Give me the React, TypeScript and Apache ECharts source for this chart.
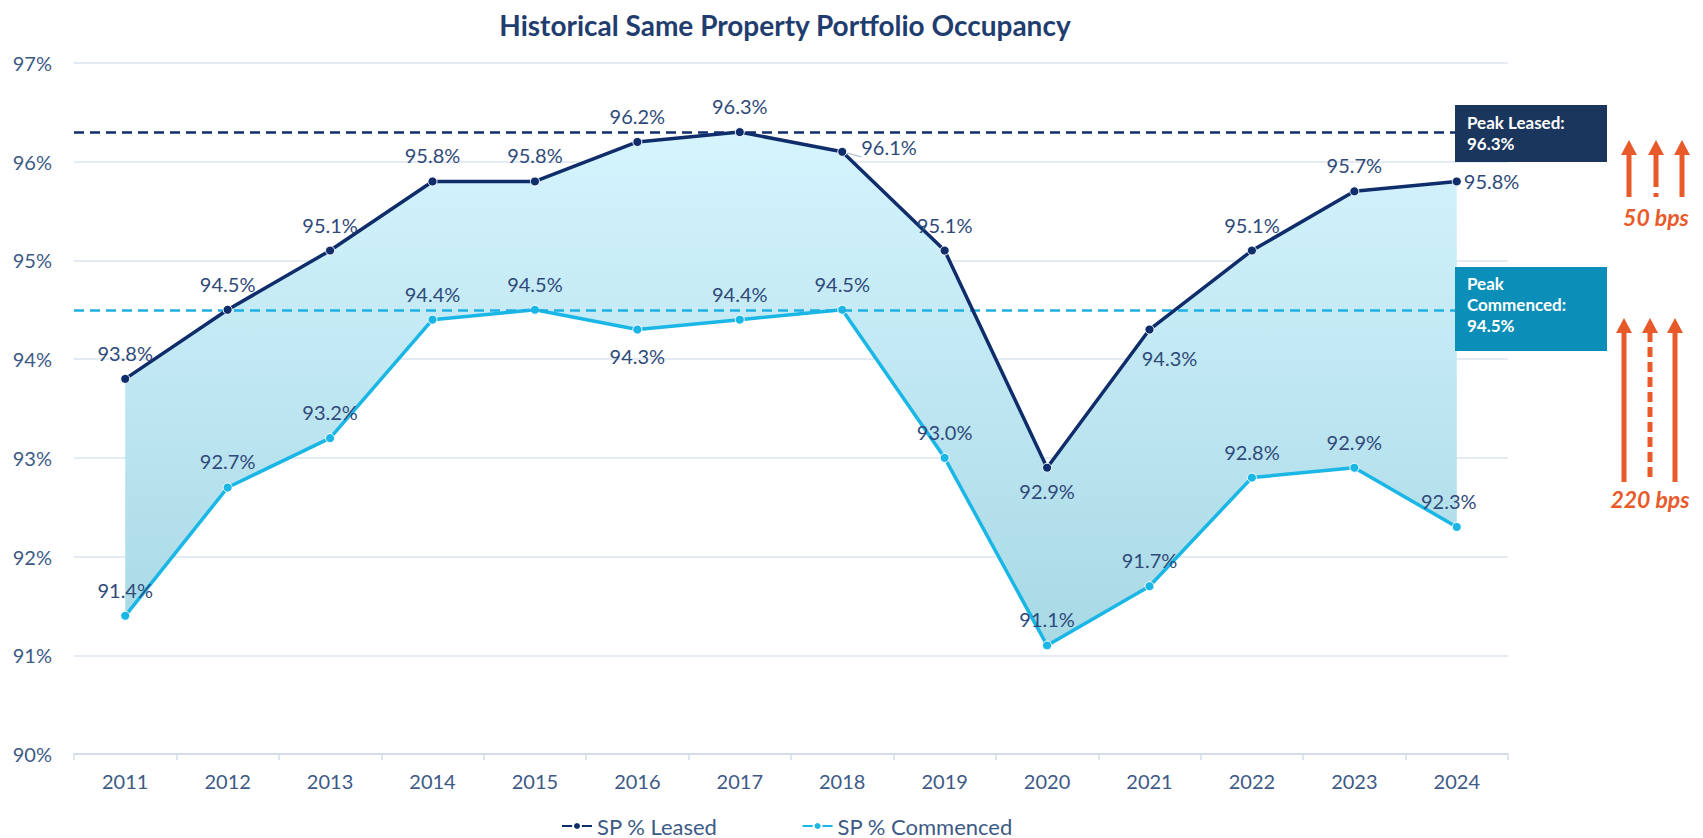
import React, { useEffect, useRef } from 'react';
import * as echarts from 'echarts';

const years = ['2011', '2012', '2013', '2014', '2015', '2016', '2017', '2018', '2019', '2020', '2021', '2022', '2023', '2024'];
const leased = [93.8, 94.5, 95.1, 95.8, 95.8, 96.2, 96.3, 96.1, 95.1, 92.9, 94.3, 95.1, 95.7, 95.8];
const commenced = [91.4, 92.7, 93.2, 94.4, 94.5, 94.3, 94.4, 94.5, 93.0, 91.1, 91.7, 92.8, 92.9, 92.3];
const peakLeased = 96.3;
const peakCommenced = 94.5;
const yMin = 90;
const yMax = 97;
const yStep = 1;

const NAVY = '#0f2d6b';
const CYAN = '#19b6e6';
const LABEL = '#2f4a7a';
const AXIS_TXT = '#3d5a86';
const ORANGE = '#e95a2b';
const FONT = 'Lato, "Open Sans", sans-serif';

const leasedLabelTweaks: Record<string, any> = {
  '2018': { position: 'right', distance: 14, offset: [0, -5] },
  '2020': { position: 'bottom', distance: 8 },
  '2021': { position: 'bottom', distance: 11, offset: [20, 2] },
  '2024': { position: 'right', distance: 2 },
};
const commencedLabelTweaks: Record<string, any> = {
  '2016': { position: 'bottom', distance: 11 },
  '2024': { offset: [-8, 0] },
};

function arrow(x: number, yTip: number, yBase: number, dashed: boolean, dash: number[]) {
  const headH = 15;
  const headW = 16;
  return [
    {
      type: 'line',
      z: 100,
      shape: { x1: x, y1: yTip + headH - 1, x2: x, y2: yBase },
      style: { stroke: ORANGE, lineWidth: 5, lineDash: dashed ? dash : null },
    },
    {
      type: 'polygon',
      z: 100,
      shape: { points: [[x, yTip], [x - headW / 2, yTip + headH], [x + headW / 2, yTip + headH]] },
      style: { fill: ORANGE },
    },
  ];
}

export default function App() {
  const ref = useRef<HTMLDivElement>(null);
  useEffect(() => {
    if (!ref.current) return;
    const chart = echarts.init(ref.current, null, { renderer: 'svg' });
    const band = leased.map((v, i) => Math.round((v - commenced[i]) * 10) / 10);
    const fmt = (p: any) => Number(p.value).toFixed(1) + '%';
    const labelBase = {
      show: true,
      position: 'top',
      distance: 11,
      color: LABEL,
      fontSize: 20,
      fontFamily: FONT,
      formatter: fmt,
    };
    const option: any = {
      animation: false,
      backgroundColor: '#ffffff',
      title: {
        text: 'Historical Same Property Portfolio Occupancy',
        left: 780,
        textAlign: 'center',
        top: 6,
        textStyle: { color: '#1f3d6e', fontSize: 28, fontWeight: 'bold', fontFamily: FONT },
      },
      legend: {
        data: ['SP % Leased', 'SP % Commenced'],
        left: 556,
        top: 810,
        itemWidth: 30,
        itemHeight: 10,
        itemGap: 84,
        textStyle: { color: AXIS_TXT, fontSize: 22, fontFamily: FONT },
      },
      grid: { left: 74, right: 195, top: 63, bottom: 84 },
      xAxis: {
        type: 'category',
        data: years,
        boundaryGap: true,
        axisLine: { lineStyle: { color: '#d3dde9', width: 2 } },
        axisTick: { show: true, length: 6, lineStyle: { color: '#d3dde9', width: 1.5 } },
        axisLabel: { color: AXIS_TXT, fontSize: 20, fontFamily: FONT, margin: 17 },
      },
      yAxis: {
        type: 'value',
        min: yMin,
        max: yMax,
        interval: yStep,
        axisLine: { show: false },
        axisTick: { show: false },
        axisLabel: { color: AXIS_TXT, fontSize: 20, fontFamily: FONT, margin: 22, formatter: '{value}%' },
        splitLine: { lineStyle: { color: '#dde4ee', width: 1.5 } },
      },
      series: [
        {
          name: 'base',
          type: 'line',
          stack: 'band',
          data: commenced,
          symbol: 'none',
          lineStyle: { opacity: 0 },
          silent: true,
          z: 1,
        },
        {
          name: 'band',
          type: 'line',
          stack: 'band',
          data: band,
          symbol: 'none',
          lineStyle: { opacity: 0 },
          silent: true,
          z: 1,
          areaStyle: {
            opacity: 1,
            color: new echarts.graphic.LinearGradient(0, 0, 0, 1, [
              { offset: 0, color: '#d5f4fe' },
              { offset: 1, color: '#a8d9e5' },
            ]),
          },
        },
        {
          name: 'SP % Leased',
          type: 'line',
          z: 5,
          data: leased.map((v, i) => ({
            value: v,
            label: leasedLabelTweaks[years[i]],
            labelLine: years[i] === '2018' ? { show: true, length2: 0, lineStyle: { color: '#9fb0c6', width: 1 } } : undefined,
          })),
          symbol: 'circle',
          symbolSize: 9,
          itemStyle: { color: NAVY, borderColor: '#ffffff', borderWidth: 1 },
          lineStyle: { color: NAVY, width: 3.5 },
          label: labelBase,
          markLine: {
            silent: true,
            symbol: 'none',
            label: { show: false },
            lineStyle: { color: NAVY, width: 2.5, type: [10, 6] },
            data: [{ yAxis: peakLeased }],
          },
        },
        {
          name: 'SP % Commenced',
          type: 'line',
          z: 4,
          data: commenced.map((v, i) => ({ value: v, label: commencedLabelTweaks[years[i]] })),
          symbol: 'circle',
          symbolSize: 9,
          itemStyle: { color: CYAN, borderColor: '#ffffff', borderWidth: 1 },
          lineStyle: { color: CYAN, width: 3.5 },
          label: labelBase,
          markLine: {
            silent: true,
            symbol: 'none',
            label: { show: false },
            lineStyle: { color: '#1eb0e2', width: 2.5, type: [10, 6] },
            data: [{ yAxis: peakCommenced }],
          },
        },
      ],
      graphic: [
        {
          type: 'rect',
          z: 100,
          shape: { x: 1455, y: 105, width: 152, height: 57 },
          style: { fill: '#1b365d' },
        },
        {
          type: 'text',
          z: 101,
          x: 1467,
          y: 112,
          style: {
            text: 'Peak Leased:\n' + peakLeased.toFixed(1) + '%',
            fill: '#ffffff',
            font: 'bold 17px ' + FONT,
            lineHeight: 21,
          },
        },
        {
          type: 'rect',
          z: 100,
          shape: { x: 1455, y: 267, width: 152, height: 84 },
          style: { fill: '#0b8fb8' },
        },
        {
          type: 'text',
          z: 101,
          x: 1467,
          y: 273,
          style: {
            text: 'Peak\nCommenced:\n' + peakCommenced.toFixed(1) + '%',
            fill: '#ffffff',
            font: 'bold 17px ' + FONT,
            lineHeight: 21,
          },
        },
        ...arrow(1629, 140, 197, false, []),
        ...arrow(1656, 140, 197, true, [33, 6]),
        ...arrow(1682, 140, 197, false, []),
        {
          type: 'text',
          z: 101,
          x: 1656,
          y: 217,
          style: {
            text: '50 bps',
            fill: ORANGE,
            font: 'italic bold 23px ' + FONT,
            textAlign: 'center',
            textVerticalAlign: 'middle',
          },
        },
        ...arrow(1624, 318, 482, false, []),
        ...arrow(1650, 318, 482, true, [10, 5]),
        ...arrow(1675, 318, 482, false, []),
        {
          type: 'text',
          z: 101,
          x: 1650,
          y: 499,
          style: {
            text: '220 bps',
            fill: ORANGE,
            font: 'italic bold 23px ' + FONT,
            textAlign: 'center',
            textVerticalAlign: 'middle',
          },
        },
      ],
    };
    chart.setOption(option);
    return () => chart.dispose();
  }, []);
  return (
    <div
      ref={ref}
      style={{ position: 'absolute', left: 0, top: 0, width: '1703px', height: '838px', background: '#fff' }}
    />
  );
}
